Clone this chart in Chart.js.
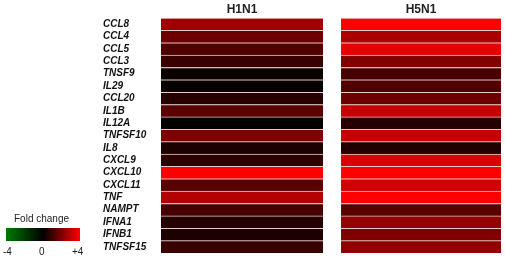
<!DOCTYPE html>
<html>
<head>
<meta charset="utf-8">
<script src="https://cdn.jsdelivr.net/npm/chart.js@4.4.0/dist/chart.umd.min.js"></script>
<style>
  html, body { margin: 0; padding: 0; background: #fff; }
  #wrap { position: relative; width: 505px; height: 260px; }
  #legend { position: absolute; left: 0; top: 0; width: 505px; height: 260px; pointer-events: none;
    font-family: "Liberation Sans", Arial, sans-serif; font-size: 10px; color: #222; }
  #legend .lbl { position: absolute; white-space: nowrap; }
  #legendBar { position: absolute; left: 6px; top: 228px; width: 74px; height: 13px;
    background: linear-gradient(to right, #007a00, #000 50%, #ff0000); }
</style>
</head>
<body>
<div id="wrap">
  <canvas id="heatmap" width="505" height="260"></canvas>
  <div id="legend">
    <div class="lbl" style="left:14px; top:213px;">Fold change</div>
    <div id="legendBar"></div>
    <div id="legendTicks"></div>
  </div>
</div>
<script>
// data (fold change, -4 .. +4)
const genes = ["CCL8", "CCL4", "CCL5", "CCL3", "TNSF9", "IL29", "CCL20", "IL1B", "IL12A",
  "TNFSF10", "IL8", "CXCL9", "CXCL10", "CXCL11", "TNF", "NAMPT", "IFNA1", "IFNB1", "TNFSF15"];
const columns = ["H1N1", "H5N1"];
const h1n1 = [2.5, 1.7, 1.25, 0.9, 0.15, 0.1, 0.6, 1.4, 0.05,
  2.0, 0.45, 0.7, 4.0, 1.4, 2.8, 1.1, 0.6, 0.45, 0.9];
const h5n1 = [4.0, 2.7, 3.6, 2.0, 1.1, 1.25, 1.7, 3.1, 0.6,
  3.1, 0.55, 3.4, 4.0, 3.3, 4.0, 1.4, 2.3, 2.0, 2.3];
const legendTicks = ["-4", "0", "+4"];

// where each column sits on the x scale (0..2)
const colSpans = [[0, 0.953], [1.059, 2]];

function foldColor(v) {
  const t = Math.max(-1, Math.min(1, v / 4));
  if (t >= 0) return `rgb(${Math.round(255 * t)},0,0)`;
  return `rgb(0,${Math.round(122 * -t)},0)`;
}

const legendTicksEl = document.getElementById("legendTicks");
const tickLeft = [3, 39, 72];
legendTicks.forEach((t, i) => {
  const d = document.createElement("div");
  d.className = "lbl";
  d.style.left = tickLeft[i] + "px";
  d.style.top = "246px";
  d.textContent = t;
  legendTicksEl.appendChild(d);
});

const datasets = [h1n1, h5n1].map((vals, c) => ({
  label: columns[c],
  data: vals.map(() => colSpans[c]),
  backgroundColor: vals.map(foldColor),
  borderColor: "#e6caca",
  borderWidth: { top: 1, bottom: 0, left: 0, right: 0 },
  borderSkipped: false,
  barPercentage: 1,
  categoryPercentage: 1,
  grouped: false,
}));

new Chart(document.getElementById("heatmap"), {
  type: "bar",
  data: { labels: genes, datasets: datasets },
  options: {
    indexAxis: "y",
    responsive: false,
    animation: false,
    layout: { padding: { left: 103, right: 4, top: 2, bottom: 7 } },
    plugins: { legend: { display: false }, tooltip: { enabled: false } },
    scales: {
      x: {
        position: "top",
        min: 0,
        max: 2,
        grid: { display: false, drawTicks: false },
        border: { display: false },
        afterBuildTicks: (scale) => {
          scale.ticks = colSpans.map((s) => ({ value: (s[0] + s[1]) / 2 }));
        },
        afterFit: (scale) => { scale.height = 16; },
        ticks: {
          padding: 1,
          color: "#222",
          font: { family: "Liberation Sans, Arial", size: 12, weight: "bold" },
          callback: (v, i) => columns[i],
        },
      },
      y: {
        grid: { display: false, drawTicks: false },
        border: { display: false },
        afterFit: (scale) => { scale.width = 58; },
        ticks: {
          autoSkip: false,
          crossAlign: "far",
          padding: 0,
          color: "#111",
          font: { family: "Liberation Sans, Arial", size: 10, weight: "bold", style: "italic" },
        },
      },
    },
  },
});
</script>
</body>
</html>
